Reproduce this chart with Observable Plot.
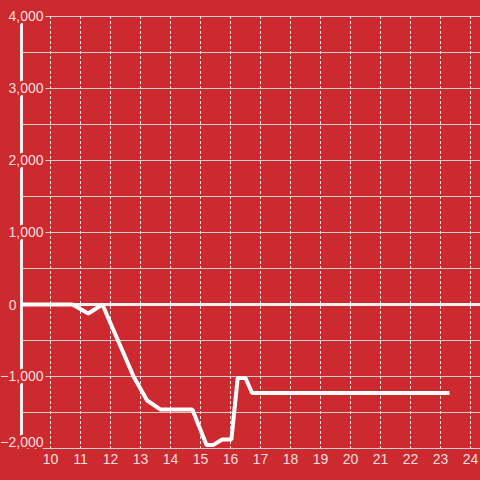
<!DOCTYPE html>
<html>
<head>
<meta charset="utf-8">
<script src="https://cdn.jsdelivr.net/npm/d3@7"></script>
<script src="https://cdn.jsdelivr.net/npm/@observablehq/plot@0.6"></script>
<style>
  html, body { margin: 0; padding: 0; background: #cc2a2f; }
  #chart { width: 480px; height: 480px; }
</style>
</head>
<body>
<div id="chart"></div>
<script>
const hours = [9, 10.73, 11.26, 11.73, 12.77, 13.22, 13.67, 14.73, 15.2, 15.43, 15.72, 16.03, 16.24, 16.5, 16.72, 23.3];
const values = [0, 0, -125, 0, -1000, -1333, -1460, -1460, -1950, -1950, -1875, -1875, -1020, -1020, -1230, -1230];
const xTicks = [10, 11, 12, 13, 14, 15, 16, 17, 18, 19, 20, 21, 22, 23, 24];
const yGrid = [-2000, -1500, -1000, -500, 0, 500, 1000, 1500, 2000, 2500, 3000, 3500, 4000];
const yLabels = [-1000, 1000, 2000, 3000, 4000];
const yBottomLabel = [-2000];
const yZeroLabel = [0];

const bg = "#cc2a2f";
const textColor = "#f5dede";
const data = hours.map((h, i) => ({h, v: values[i]}));
const fmt = d3.format(",");

const labelOpts = {x: () => 9, y: d => d, text: d => fmt(d), textAnchor: "end", fill: textColor, stroke: bg, strokeWidth: 5, fontSize: 14};

const chart = Plot.plot({
  width: 480,
  height: 480,
  marginTop: 16,
  marginBottom: 32,
  marginLeft: 20,
  marginRight: 0,
  style: {background: bg, fontFamily: "Liberation Sans, Arial, sans-serif", fontSize: "14px", color: textColor},
  x: {domain: [9, 24.3333], axis: null, label: null},
  y: {domain: [-2000, 4000], axis: null, label: null},
  marks: [
    Plot.gridY(yGrid, {stroke: "#cfcfcf", strokeOpacity: 1, strokeWidth: 1}),
    Plot.gridX(xTicks, {stroke: "#e0e0e0", strokeOpacity: 1, strokeWidth: 1, strokeDasharray: "3,2"}),
    Plot.ruleX([9], {y1: -2000, y2: 4000, stroke: "#f0f0f0", strokeWidth: 3, dx: 1}),
    Plot.ruleY([0], {stroke: "#f0f0f0", strokeWidth: 3}),
    Plot.line(data, {x: "h", y: "v", stroke: "#ffffff", strokeWidth: 4, strokeLinejoin: "miter", strokeLinecap: "butt"}),
    Plot.text(yLabels, {...labelOpts, dx: 23}),
    Plot.text(yBottomLabel, {...labelOpts, dx: 23, dy: -6}),
    Plot.text(yZeroLabel, {...labelOpts, dx: -4, dy: 1}),
    Plot.axisX(xTicks, {tickSize: 0, tickPadding: 6, fontSize: 14, color: textColor, label: null, tickFormat: d => String(d)})
  ]
});
document.getElementById("chart").appendChild(chart);
</script>
</body>
</html>
